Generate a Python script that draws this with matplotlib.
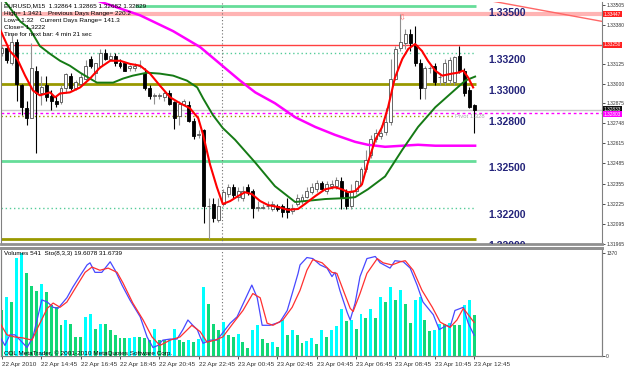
import matplotlib
matplotlib.use("Agg")
import matplotlib.pyplot as plt
import matplotlib.transforms as mtransforms
import numpy as np

plt.rcParams['font.family'] = ['Liberation Sans', 'DejaVu Sans']

# EURUSD M15, bars from 22 Apr 2010 12:45 to 23 Apr 2010 12:45
opens = [1.3320, 1.3323, 1.3313, 1.3327, 1.3299, 1.3284, 1.3278, 1.3308, 1.3294, 1.3299,
         1.3292, 1.3289, 1.3288, 1.3297, 1.3305, 1.3297, 1.3300, 1.3303, 1.3316, 1.3307,
         1.3311, 1.3320, 1.3316, 1.3318, 1.3313, 1.3313, 1.3310, 1.3310, 1.3311, 1.3307,
         1.3297, 1.3292, 1.3292, 1.3291, 1.3294, 1.3288, 1.3279, 1.3287, 1.3286, 1.3276,
         1.3267, 1.3270, 1.3221, 1.3222, 1.3212, 1.3222, 1.3229, 1.3233, 1.3227, 1.3226,
         1.3233, 1.3231, 1.3220, 1.3220, 1.3221, 1.3219, 1.3221, 1.3221, 1.3220, 1.3218,
         1.3222, 1.3224, 1.3227, 1.3230, 1.3232, 1.3236, 1.3231, 1.3234, 1.3234, 1.3237,
         1.3230, 1.3221, 1.3231, 1.3235, 1.3245, 1.3254, 1.3264, 1.3266, 1.3269, 1.3275,
         1.3303, 1.3323, 1.3326, 1.3332, 1.3325, 1.3313, 1.3297, 1.3310, 1.3311, 1.3304,
         1.3301, 1.3302, 1.3301, 1.3318, 1.3308, 1.3296, 1.32864]
highs = [1.3324, 1.3325, 1.3332, 1.3329, 1.3300, 1.3289, 1.3326, 1.3311, 1.3305, 1.3305,
         1.3296, 1.3292, 1.3299, 1.3307, 1.3307, 1.3302, 1.3307, 1.3315, 1.3318, 1.3313,
         1.3322, 1.3322, 1.3320, 1.3320, 1.3316, 1.3313, 1.3312, 1.3313, 1.3315, 1.3310,
         1.3299, 1.3294, 1.3294, 1.3296, 1.3296, 1.3289, 1.3289, 1.3290, 1.3289, 1.3278,
         1.3270, 1.3271, 1.3226, 1.3226, 1.3226, 1.3232, 1.3235, 1.3235, 1.3233, 1.3234,
         1.3235, 1.3232, 1.3224, 1.3222, 1.3224, 1.3224, 1.3222, 1.3222, 1.3226, 1.3222,
         1.3229, 1.3229, 1.3233, 1.3236, 1.3238, 1.3237, 1.3237, 1.3238, 1.3240, 1.3240,
         1.3232, 1.3235, 1.3238, 1.3246, 1.3257, 1.3267, 1.3271, 1.3273, 1.3284, 1.3316,
         1.3324, 1.3345, 1.3335, 1.3335, 1.3337, 1.3316, 1.3311, 1.3311, 1.3313, 1.3307,
         1.3316, 1.3317, 1.3318, 1.3324, 1.3310, 1.3298, 1.32865]
lows = [1.3318, 1.3313, 1.3312, 1.3289, 1.3280, 1.3273, 1.3278, 1.3255, 1.3286, 1.3289,
        1.3283, 1.3285, 1.3287, 1.3294, 1.3296, 1.3296, 1.3299, 1.3302, 1.3310, 1.3302,
        1.3310, 1.3315, 1.3315, 1.3311, 1.3310, 1.3308, 1.3308, 1.3308, 1.3310, 1.3296,
        1.3290, 1.3287, 1.3290, 1.3289, 1.3286, 1.3271, 1.3273, 1.3286, 1.3275, 1.3264,
        1.3265, 1.3210, 1.3200, 1.3211, 1.3211, 1.3221, 1.3227, 1.3226, 1.3224, 1.3224,
        1.3228, 1.3213, 1.3218, 1.3219, 1.3219, 1.3218, 1.3218, 1.3214, 1.3213, 1.3216,
        1.3221, 1.3222, 1.3226, 1.3229, 1.3230, 1.3231, 1.3229, 1.3232, 1.3232, 1.3219,
        1.3219, 1.3219, 1.3229, 1.3234, 1.3243, 1.3252, 1.3262, 1.3264, 1.3267, 1.3273,
        1.3302, 1.3321, 1.3322, 1.3321, 1.3311, 1.3290, 1.3290, 1.3307, 1.3299, 1.3299,
        1.3299, 1.3300, 1.3299, 1.3307, 1.3292, 1.3284, 1.32682]
closes = [1.3323, 1.3315, 1.3327, 1.3300, 1.3285, 1.3278, 1.3310, 1.3294, 1.3298, 1.3291,
          1.3289, 1.3287, 1.3297, 1.3306, 1.3297, 1.3301, 1.3304, 1.3311, 1.3311, 1.3313,
          1.3320, 1.3316, 1.3318, 1.3313, 1.3311, 1.3308, 1.3311, 1.3311, 1.3311, 1.3297,
          1.3292, 1.3292, 1.3292, 1.3294, 1.3287, 1.3278, 1.3287, 1.3289, 1.3276, 1.3266,
          1.3267, 1.3221, 1.3221, 1.3213, 1.3221, 1.3230, 1.3233, 1.3228, 1.3231, 1.3231,
          1.3230, 1.3220, 1.3220, 1.3220, 1.3221, 1.3222, 1.3219, 1.3217, 1.3217, 1.3220,
          1.3226, 1.3227, 1.3231, 1.3233, 1.3236, 1.3232, 1.3235, 1.3235, 1.3238, 1.3226,
          1.3221, 1.3230, 1.3237, 1.3245, 1.3251, 1.3264, 1.3268, 1.3268, 1.3275, 1.3303,
          1.3322, 1.3327, 1.3332, 1.3326, 1.3313, 1.3297, 1.3310, 1.3310, 1.3301, 1.3304,
          1.3313, 1.3315, 1.3317, 1.3308, 1.3294, 1.3285, 1.32829]
volumes = [606, 781, 715, 1308, 1370, 1110, 935, 870, 960, 847,
           672, 650, 408, 474, 430, 254, 254, 518, 562, 364,
           421, 421, 351, 285, 233, 233, 240, 250, 250, 240,
           210, 364, 210, 210, 230, 364, 210, 190, 210, 180,
           220, 913, 694, 430, 342, 452, 277, 254, 299, 189,
           101, 342, 408, 224, 167, 190, 123, 474, 277, 342,
           277, 167, 198, 233, 154, 351, 254, 351, 395, 628,
           461, 474, 364, 562, 509, 628, 509, 790, 715, 922,
           751, 878, 685, 439, 738, 790, 483, 333, 342, 430,
           430, 439, 408, 408, 672, 746, 541]

# moving averages (bar index, price)
ma_fast_bar = [-0.4, 1.6, 3.1, 4.7, 6.3, 7.7, 9.8, 10.8, 11.8, 13.8, 15.9, 17.9, 19.9, 22.0, 24.0,
               26.0, 28.1, 30.1, 32.1, 34.2, 36.2, 38.2, 39.9, 40.9, 42.3, 43.7, 44.9, 46.4, 48.0,
               49.4, 50.8, 52.5, 54.1, 56.1, 58.2, 60.2, 61.6, 63.7, 65.7, 67.7, 69.1, 70.4, 71.8,
               73.2, 74.4, 75.9, 77.3, 78.5, 79.9, 81.4, 82.6, 84.0, 85.4, 86.6, 88.1, 89.5, 91.5,
               92.7, 93.8, 94.8, 95.8]
ma_fast = [1.33350, 1.33210, 1.33159, 1.33051, 1.32955, 1.32924, 1.32943, 1.32911, 1.32936,
           1.32943, 1.32975, 1.33032, 1.33102, 1.33147, 1.33147, 1.33127, 1.33115, 1.33064,
           1.32987, 1.32911, 1.32873, 1.32841, 1.32777, 1.32669, 1.32478, 1.32331, 1.32223,
           1.32242, 1.32274, 1.32299, 1.32287, 1.32242, 1.32216, 1.32204, 1.32185, 1.32191,
           1.32223, 1.32274, 1.32318, 1.32331, 1.32318, 1.32299, 1.32306, 1.32350, 1.32490,
           1.32637, 1.32720, 1.32847, 1.33038, 1.33159, 1.33223, 1.33255, 1.33210, 1.33147,
           1.33083, 1.33051, 1.33064, 1.33070, 1.33083, 1.33038, 1.32975]
ma_mid_bar = [0.6, 3.7, 5.7, 7.7, 9.8, 11.8, 13.8, 15.9, 17.9, 19.3, 22.6, 24.6, 26.6, 29.5,
              32.1, 34.8, 37.6, 39.7, 40.9, 42.9, 44.9, 47.4, 51.5, 55.5, 59.6, 61.6, 65.7,
              69.8, 71.8, 74.4, 77.9, 81.4, 84.6, 88.1, 91.5, 94.2, 96.2]
ma_mid = [1.33530, 1.33401, 1.33350, 1.33242, 1.33191, 1.33147, 1.33115, 1.33070, 1.33032,
          1.33006, 1.33006, 1.33032, 1.33051, 1.33070, 1.33064, 1.33051, 1.33019, 1.32975,
          1.32904, 1.32796, 1.32713, 1.32637, 1.32490, 1.32338, 1.32236, 1.32242, 1.32255,
          1.32261, 1.32267, 1.32318, 1.32401, 1.32573, 1.32720, 1.32847, 1.32943, 1.33019,
          1.33045]
ma_slow_bar = [17.9, 19.9, 28.1, 34.8, 40.3, 48.4, 51.5, 55.5, 59.6, 63.7, 67.7, 71.8, 74.4,
               77.9, 81.4, 84.6, 88.1, 96.2]
ma_slow = [1.33561, 1.33529, 1.33440, 1.33338, 1.33235, 1.33019, 1.32943, 1.32873, 1.32783,
           1.32720, 1.32669, 1.32624, 1.32605, 1.32592, 1.32599, 1.32605, 1.32599, 1.32599]

# stochastic (8,3,3): main and signal
sto_main_bar = [-0.4, 0.6, 1.6, 2.6, 3.7, 5.1, 6.3, 8.1, 9.2, 10.4, 11.4, 13.2, 14.4, 15.9, 17.3,
                17.9, 18.9, 20.3, 22.0, 23.0, 24.4, 26.0, 28.1, 29.5, 30.7, 31.7, 32.7, 34.2, 35.6,
                36.8, 37.8, 38.8, 39.7, 40.3, 40.9, 42.3, 43.7, 44.9, 46.4, 47.8, 49.4, 50.8, 51.9,
                52.9, 54.5, 56.5, 58.0, 59.2, 60.2, 60.6, 62.0, 63.2, 64.7, 66.1, 67.1, 67.7, 68.7,
                70.2, 70.8, 71.8, 72.8, 74.2, 75.9, 76.9, 78.9, 79.9, 81.6, 83.0, 84.4, 85.6, 87.7,
                88.9, 90.5, 91.1, 92.1, 93.8, 94.8, 96.0]
sto_main = [18, 10, 20, 20, 15, 8, 18, 53, 51, 46, 45, 55, 65, 76, 86,
            88, 79, 79, 89, 81, 67, 53, 37, 18, 8, 10, 15, 16, 16,
            25, 34, 29, 25, 18, 12, 15, 15, 22, 31, 37, 53, 67, 55,
            29, 29, 32, 43, 62, 78, 86, 93, 92, 86, 83, 75, 79, 62,
            41, 34, 50, 75, 92, 94, 88, 83, 90, 89, 83, 67, 51, 39,
            25, 29, 27, 43, 46, 31, 19.6]
sto_sig_bar = [-0.4, 1.0, 2.6, 4.3, 6.1, 7.3, 9.2, 10.4, 11.8, 13.2, 15.3, 16.9, 18.3, 19.9,
               21.6, 23.4, 24.6, 26.6, 28.7, 30.5, 32.1, 34.2, 36.2, 38.6, 40.3, 41.7, 43.3,
               44.9, 47.0, 49.0, 51.0, 52.5, 53.9, 55.1, 57.1, 59.0, 60.6, 62.0, 63.2, 65.1,
               67.1, 68.1, 69.4, 70.8, 71.4, 72.8, 74.2, 76.3, 77.5, 79.3, 81.0, 82.0, 83.6,
               85.4, 87.5, 89.1, 91.1, 92.5, 93.8, 94.8, 96.0]
sto_sig = [31, 20, 18, 17, 15, 27, 45, 50, 46, 51, 67, 79, 84, 81,
           83, 79, 69, 50, 34, 18, 10, 15, 18, 29, 23, 13, 15,
           18, 31, 43, 59, 55, 31, 29, 34, 46, 62, 81, 91, 88,
           79, 78, 62, 45, 42, 59, 78, 92, 88, 86, 89, 90, 81,
           62, 46, 32, 27, 34, 45, 39, 31.7]

# horizontal price levels
level_prices = [1.3350, 1.33447, 1.3325, 1.3320, 1.3300, 1.32829, 1.32807, 1.3279, 1.3250, 1.3220, 1.3200]
level_labels = ['1.33500', '1.33200', '1.33000', '1.32800', '1.32500', '1.32200', '1.32000']
label_prices = [1.3350, 1.3320, 1.3300, 1.3280, 1.3250, 1.3220, 1.3200]
trend_bar = [97.2, 122.0]
trend_price = [1.33546, 1.33401]

price_ticks = [1.33505, 1.33380, 1.33125, 1.33000, 1.32875, 1.32748, 1.32615,
               1.32485, 1.32355, 1.32225, 1.32095, 1.31965]
time_labels = ['22 Apr 2010', '22 Apr 14:45', '22 Apr 16:45', '22 Apr 18:45', '22 Apr 20:45',
               '22 Apr 22:45', '23 Apr 00:45', '23 Apr 02:45', '23 Apr 04:45', '23 Apr 06:45',
               '23 Apr 08:45', '23 Apr 10:45', '23 Apr 12:45']

n = len(opens)
idx = np.arange(n)
o = np.array(opens); h = np.array(highs); l = np.array(lows); c = np.array(closes)
XLIM = (-0.2, 122.0)

fig = plt.figure(figsize=(6.25, 3.70), dpi=100)
ax = fig.add_axes([1 / 625, 1 - 244 / 370, 601 / 625, 242 / 370])
axv = fig.add_axes([1 / 625, 1 - 356 / 370, 601 / 625, 108 / 370])
axs = axv.twinx()

ax.set_xlim(*XLIM)
ax.set_ylim(1.31974, 1.33526)

# level lines
ax.hlines(level_prices[0], 27, 96.3, color='#66dd99', lw=2, zorder=1)
ax.axhline(level_prices[1], color='#ffb4b4', lw=3, zorder=1)
ax.axhline(level_prices[2], color='#ff4040', lw=1, zorder=1)
ax.hlines(level_prices[3], XLIM[0], 96.3, color='#55cc99', lw=1, ls=(0, (1, 2)), zorder=1)
ax.hlines(level_prices[4], XLIM[0], 96.3, color='#999900', lw=2, zorder=1)
ax.axhline(level_prices[5], color='#c8c8c8', lw=1, zorder=1)
ax.axhline(level_prices[6], color='#ff00ff', lw=1, ls=(0, (2, 2)), zorder=1)
ax.hlines(level_prices[7], XLIM[0], 91.8, color='#999900', lw=1, ls=(0, (1, 2)), zorder=1)
ax.hlines(level_prices[8], XLIM[0], 96.3, color='#66dd99', lw=2, zorder=1)
ax.hlines(level_prices[9], XLIM[0], 96.3, color='#55cc99', lw=1, ls=(0, (1, 2)), zorder=1)
ax.hlines(level_prices[10], XLIM[0], 96.3, color='#999900', lw=2, zorder=1)
ax.plot(trend_bar, trend_price, color='#ff6666', lw=1, zorder=1)

# day separator
for a in (ax, axv):
    a.axvline(44.8, color='#707070', lw=0.8, ls=(0, (1, 2)), zorder=1)

# candles
up = c >= o
ax.vlines(idx[up], l[up], h[up], color='#909090', lw=0.8, zorder=3)
ax.vlines(idx[~up], l[~up], h[~up], color='black', lw=0.8, zorder=3)
body = np.maximum(np.abs(c - o), 0.00003)
ax.bar(idx[up], body[up], bottom=np.minimum(o, c)[up], width=0.6, color='white',
       edgecolor='#505050', lw=0.6, zorder=4)
ax.bar(idx[~up], body[~up], bottom=np.minimum(o, c)[~up], width=0.6, color='black',
       edgecolor='black', lw=0.6, zorder=4)

# moving averages
ax.plot(ma_slow_bar, ma_slow, color='#ff00ff', lw=1.8, zorder=5)
ax.plot(ma_mid_bar, ma_mid, color='#157a15', lw=1.4, zorder=5)
ax.plot(ma_fast_bar, ma_fast, color='#ff0000', lw=1.5, zorder=6)

# level captions
for p, t in zip(label_prices, level_labels):
    ax.text(98.8, p - 0.00013, t, fontsize=7.5, fontweight='bold', color='#23237a',
            va='top', ha='left', zorder=7, clip_on=True)
ax.text(92.2, 1.3279, 'Pivot 1.328', fontsize=4.2, color='#a8a8a8', va='center', ha='left', zorder=7)
ax.text(81.3, 1.33420, '\u21e9', fontsize=6, color='#ff7070', family='DejaVu Sans',
        ha='center', va='center', zorder=7)

# price axis on the right
ax.yaxis.tick_right()
ax.set_yticks(price_ticks)
ax.set_yticklabels([f'{v:.5f}' for v in price_ticks])
ax.tick_params(axis='y', labelsize=3.6, length=2, pad=1, width=0.6, colors='#333333')
ax.set_xticks([])
bt = mtransforms.blended_transform_factory(ax.transAxes, ax.transData)
for p, bg in [(1.33447, '#ff2020'), (1.3325, '#ff2020'), (1.32833, '#111111'), (1.32803, '#ff00ff')]:
    ax.text(1.003, p, f'{p:.5f}', transform=bt, fontsize=3.4, color='white', va='center', ha='left',
            bbox=dict(boxstyle='square,pad=0.1', fc=bg, ec='none'), clip_on=False, zorder=8)

for s in ['top']:
    ax.spines[s].set_visible(False)
ax.spines['left'].set_color('#808080')
ax.spines['right'].set_color('#808080')
ax.spines['bottom'].set_color('#909090')
ax.spines['bottom'].set_linewidth(2)

# header text
hdr = [(4, 6, 'EURUSD,M15  1.32864 1.32865 1.32682 1.32829'),
       (4, 13.5, 'High= 1.3421'), (48, 13.5, 'Previous Days Range= 220.2'),
       (4, 20.5, 'Low= 1.32'), (40, 20.5, 'Current Days Range= 141.3'),
       (4, 27.5, 'Close= 1.3222'),
       (4, 34.5, 'Time for next bar: 4 min 21 sec')]
for px, py, t in hdr:
    fig.text(px / 625, 1 - py / 370, t, fontsize=4.6, color='black', va='center', ha='left')

# volumes panel
vol = np.array(volumes)
vcol = ['#00ffff' if i > 0 and vol[i] > vol[i - 1] else '#10d878' for i in range(n)]
axv.bar(idx, vol, width=0.6, color=vcol, zorder=2)
axv.set_xlim(*XLIM)
axv.set_ylim(0, 1436)
axs.set_ylim(0, 102)
axs.plot(sto_main_bar, sto_main, color='#4848ff', lw=0.9, zorder=3)
axs.plot(sto_sig_bar, sto_sig, color='#ff3030', lw=0.9, zorder=3)
axv.yaxis.tick_right()
axv.set_yticks([0, 1370])
axv.set_yticklabels(['0', '1370'])
axv.tick_params(axis='y', labelsize=3.6, length=2, pad=1, width=0.6, colors='#333333')
axs.set_yticks([])
axv.set_xticks(np.arange(0, 97, 8))
axv.set_xticklabels(time_labels, ha='left')
axv.tick_params(axis='x', labelsize=4.6, length=2, pad=2, width=0.6, colors='#333333')
for a in (axv, axs):
    a.spines['top'].set_color('#909090')
    a.spines['top'].set_linewidth(2)
    a.spines['left'].set_color('#808080')
    a.spines['right'].set_color('#808080')
    a.spines['bottom'].set_color('#808080')
fig.text(4 / 625, 1 - 254 / 370, 'Volumes 541  Sto(8,3,3) 19.6078 31.6739', fontsize=4.6,
         va='center', ha='left')
fig.text(4 / 625, 1 - 353 / 370, 'ODL MetaTrader, \u00a9 2001-2010 MetaQuotes Software Corp.',
         fontsize=4.6, va='center', ha='left')

fig.savefig('out.png', dpi=100, facecolor='white')
